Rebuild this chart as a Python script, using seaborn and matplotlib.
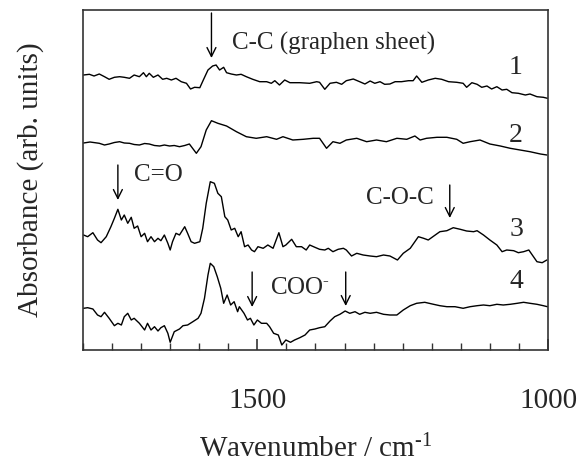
import numpy as np
import pandas as pd
import matplotlib
matplotlib.use("Agg")
import matplotlib.pyplot as plt
import seaborn as sns
from matplotlib.ticker import MultipleLocator

# ---------------- data ----------------
wn1 = [1799, 1789, 1781, 1772, 1763, 1755, 1746, 1737, 1729, 1720, 1712, 1703, 1696, 1691, 1686,
       1679, 1671, 1663, 1656, 1648, 1640, 1631, 1622, 1615, 1608, 1599, 1593, 1585, 1577, 1571,
       1565, 1558, 1553, 1545, 1536, 1528, 1519, 1508, 1496, 1484, 1476, 1470, 1462, 1453, 1444,
       1427, 1410, 1398, 1393, 1384, 1375, 1364, 1355, 1347, 1335, 1324, 1315, 1306, 1298, 1289,
       1281, 1272, 1263, 1252, 1240, 1232, 1226, 1217, 1206, 1194, 1183, 1171, 1157, 1146, 1140,
       1131, 1122, 1114, 1105, 1097, 1088, 1079, 1071, 1062, 1051, 1039, 1031, 1019, 1008, 1001]
abs1 = [2.750, 2.757, 2.740, 2.760, 2.733, 2.707, 2.727, 2.733, 2.727, 2.717, 2.750, 2.733, 2.773, 2.733, 2.767,
        2.727, 2.750, 2.707, 2.717, 2.700, 2.717, 2.683, 2.667, 2.610, 2.627, 2.623, 2.700, 2.800, 2.840, 2.850,
        2.800, 2.827, 2.773, 2.760, 2.750, 2.757, 2.733, 2.707, 2.683, 2.683, 2.667, 2.693, 2.650, 2.700, 2.673,
        2.673, 2.667, 2.683, 2.677, 2.607, 2.667, 2.677, 2.657, 2.693, 2.710, 2.683, 2.660, 2.690, 2.667, 2.683,
        2.657, 2.660, 2.683, 2.683, 2.693, 2.693, 2.740, 2.677, 2.700, 2.717, 2.707, 2.683, 2.677, 2.667, 2.627,
        2.673, 2.657, 2.627, 2.640, 2.610, 2.633, 2.600, 2.607, 2.573, 2.567, 2.550, 2.560, 2.533, 2.527, 2.517]

wn2 = [1799, 1788, 1772, 1763, 1755, 1746, 1737, 1729, 1720, 1712, 1703, 1694, 1686, 1677, 1668,
       1660, 1651, 1643, 1634, 1625, 1617, 1605, 1597, 1588, 1579, 1568, 1553, 1536, 1519, 1502,
       1484, 1467, 1456, 1439, 1421, 1404, 1393, 1381, 1370, 1358, 1347, 1329, 1312, 1295, 1278,
       1260, 1243, 1229, 1220, 1209, 1191, 1174, 1157, 1146, 1134, 1117, 1100, 1082, 1065, 1048,
       1031, 1013, 1002]
abs2 = [2.070, 2.080, 2.067, 2.050, 2.060, 2.075, 2.083, 2.070, 2.067, 2.055, 2.050, 2.065, 2.060, 2.045, 2.040,
        2.050, 2.040, 2.045, 2.033, 2.045, 2.060, 1.967, 2.033, 2.200, 2.293, 2.267, 2.240, 2.183, 2.133, 2.117,
        2.133, 2.107, 2.133, 2.100, 2.107, 2.117, 2.117, 2.017, 2.083, 2.067, 2.100, 2.117, 2.083, 2.100, 2.083,
        2.117, 2.107, 2.140, 2.100, 2.117, 2.127, 2.127, 2.107, 2.067, 2.083, 2.100, 2.060, 2.040, 2.017, 2.000,
        1.983, 1.960, 1.950]

wn3 = [1799, 1792, 1783, 1775, 1769, 1760, 1752, 1746, 1740, 1734, 1729, 1723, 1717, 1712, 1706,
       1700, 1694, 1689, 1683, 1677, 1671, 1666, 1660, 1654, 1650, 1646, 1640, 1634, 1625, 1620,
       1614, 1608, 1599, 1594, 1588, 1581, 1574, 1568, 1562, 1556, 1551, 1545, 1539, 1533, 1528,
       1522, 1516, 1510, 1505, 1499, 1490, 1482, 1473, 1463, 1456, 1451, 1441, 1433, 1424, 1416,
       1410, 1401, 1393, 1384, 1378, 1370, 1361, 1352, 1347, 1338, 1329, 1318, 1306, 1295, 1283,
       1272, 1259, 1249, 1237, 1223, 1214, 1206, 1194, 1186, 1174, 1163, 1151, 1140, 1128, 1122,
       1111, 1100, 1088, 1079, 1071, 1059, 1051, 1042, 1033, 1025, 1019, 1010, 1002]
abs3 = [1.150, 1.133, 1.173, 1.100, 1.073, 1.133, 1.233, 1.317, 1.407, 1.300, 1.350, 1.267, 1.327, 1.217, 1.240,
        1.133, 1.167, 1.083, 1.133, 1.083, 1.117, 1.093, 1.150, 1.067, 1.000, 1.083, 1.167, 1.150, 1.233, 1.167,
        1.083, 1.067, 1.083, 1.217, 1.467, 1.683, 1.667, 1.567, 1.533, 1.333, 1.300, 1.200, 1.217, 1.133, 1.183,
        1.033, 1.050, 1.000, 0.983, 1.033, 1.017, 1.050, 1.017, 1.173, 1.033, 1.050, 1.107, 1.033, 1.033, 1.000,
        1.050, 1.027, 1.007, 1.000, 1.017, 0.983, 1.007, 1.017, 1.000, 0.940, 0.967, 0.950, 0.940, 0.933, 0.950,
        0.940, 0.900, 0.967, 1.017, 1.133, 1.117, 1.100, 1.150, 1.183, 1.193, 1.223, 1.207, 1.190, 1.183, 1.193,
        1.150, 1.100, 1.050, 0.983, 1.000, 0.993, 0.973, 0.983, 1.000, 0.933, 0.883, 0.873, 0.900]

wn4 = [1799, 1792, 1783, 1775, 1769, 1763, 1755, 1746, 1740, 1734, 1729, 1723, 1717, 1712, 1703,
       1694, 1689, 1683, 1677, 1671, 1666, 1660, 1654, 1650, 1643, 1634, 1628, 1620, 1611, 1602,
       1597, 1591, 1585, 1581, 1575, 1569, 1563, 1558, 1552, 1546, 1540, 1534, 1531, 1523, 1517,
       1512, 1506, 1500, 1493, 1484, 1479, 1472, 1464, 1458, 1451, 1443, 1436, 1427, 1418, 1410,
       1401, 1393, 1384, 1375, 1367, 1358, 1349, 1341, 1332, 1324, 1315, 1306, 1295, 1283, 1272,
       1260, 1249, 1237, 1226, 1212, 1197, 1186, 1174, 1160, 1146, 1134, 1122, 1111, 1100, 1088,
       1077, 1065, 1053, 1042, 1031, 1019, 1008, 1001]
abs4 = [0.417, 0.423, 0.410, 0.350, 0.333, 0.377, 0.317, 0.243, 0.267, 0.250, 0.333, 0.367, 0.300, 0.317, 0.267,
        0.200, 0.267, 0.200, 0.233, 0.190, 0.223, 0.243, 0.167, 0.077, 0.183, 0.210, 0.243, 0.250, 0.283, 0.317,
        0.367, 0.517, 0.750, 0.867, 0.833, 0.733, 0.617, 0.467, 0.550, 0.450, 0.483, 0.383, 0.433, 0.367, 0.300,
        0.317, 0.250, 0.300, 0.267, 0.267, 0.233, 0.167, 0.150, 0.050, 0.100, 0.077, 0.100, 0.123, 0.150, 0.200,
        0.210, 0.223, 0.233, 0.290, 0.333, 0.357, 0.390, 0.367, 0.383, 0.357, 0.377, 0.367, 0.377, 0.357, 0.350,
        0.350, 0.400, 0.443, 0.467, 0.477, 0.457, 0.443, 0.433, 0.433, 0.417, 0.433, 0.443, 0.450, 0.443, 0.457,
        0.450, 0.457, 0.467, 0.477, 0.467, 0.457, 0.443, 0.433]

curve_labels = ["1", "2", "3", "4"]
xlabel = r"Wavenumber / cm$^{\text{-}1}$"
ylabel = "Absorbance (arb. units)"
xtick_major = [1500, 1000]

# ---------------- style ----------------
sns.set_style("ticks")
plt.rcParams["font.family"] = ["Liberation Serif", "DejaVu Serif"]
plt.rcParams["mathtext.fontset"] = "custom"
plt.rcParams["mathtext.rm"] = "Liberation Serif"
plt.rcParams["mathtext.it"] = "Liberation Serif:italic"
plt.rcParams["mathtext.bf"] = "Liberation Serif:bold"

frames = []
for lab, w, a in zip(curve_labels, [wn1, wn2, wn3, wn4], [abs1, abs2, abs3, abs4]):
    frames.append(pd.DataFrame({"wavenumber": w, "absorbance": a, "spectrum": lab}))
df = pd.concat(frames, ignore_index=True)

fig = plt.figure(figsize=(5.79, 4.68), dpi=100)
ax = fig.add_axes([83 / 579, 1 - 350 / 468, (548 - 83) / 579, (350 - 10) / 468])

sns.lineplot(data=df, x="wavenumber", y="absorbance", hue="spectrum", units="spectrum",
             estimator=None, sort=False, palette=["black"] * 4, linewidth=1.0,
             legend=False, ax=ax)

ax.set_xlim(1800, 1000)
ax.set_ylim(0, 3.4)
ax.set_yticks([])
ax.xaxis.set_major_locator(plt.FixedLocator(xtick_major))
ax.xaxis.set_minor_locator(MultipleLocator(50))
ax.tick_params(axis="x", which="major", direction="in", length=8, width=1.2,
               labelsize=21, pad=27, top=False, color="#333333")
ax.tick_params(axis="x", which="minor", direction="in", length=5, width=1.0,
               top=False, color="#333333")
for s in ax.spines.values():
    s.set_linewidth(1.2)
    s.set_color("#333333")

ax.set_xlabel(xlabel, fontsize=21, labelpad=15)
ax.set_ylabel(ylabel, fontsize=21, labelpad=28)

# ---------------- annotations ----------------
arrow = dict(arrowstyle="->", lw=1.0, color="black", mutation_scale=16, shrinkA=0, shrinkB=0)

def down_arrow(x, y_top, y_tip):
    ax.annotate("", xy=(x, y_tip), xytext=(x, y_top), arrowprops=arrow)

down_arrow(1579, 3.37, 2.92)
ax.text(1543, 3.07, "C-C (graphen sheet)", fontsize=18, ha="left", va="center")

down_arrow(1740, 1.85, 1.50)
ax.text(1712, 1.75, "C=O", fontsize=18, ha="left", va="center")

down_arrow(1169, 1.65, 1.32)
ax.text(1197, 1.52, "C-O-C", fontsize=18, ha="right", va="center")

down_arrow(1509, 0.78, 0.43)
down_arrow(1348, 0.78, 0.44)
ax.text(1479, 0.62, r"COO$^{\text{-}}$", fontsize=18, ha="left", va="center")

for lab, y in zip(curve_labels, [2.82, 2.15, 1.20, 0.68]):
    ax.text(1055, y, lab, fontsize=20, ha="center", va="center")

fig.savefig("out.png", dpi=100)
